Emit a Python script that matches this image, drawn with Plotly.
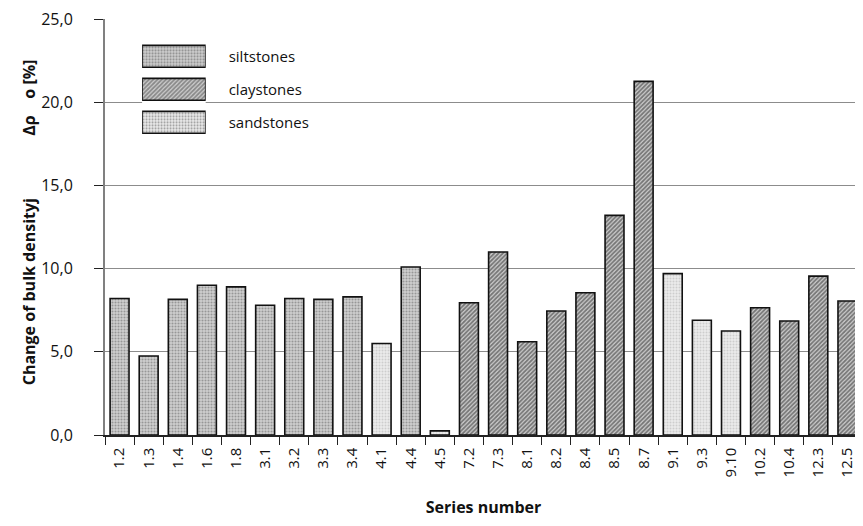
import plotly.graph_objects as go

categories = ["1.2", "1.3", "1.4", "1.6", "1.8", "3.1", "3.2", "3.3", "3.4", "4.1", "4.4", "4.5",
              "7.2", "7.3", "8.1", "8.2", "8.4", "8.5", "8.7", "9.1", "9.3", "9.10", "10.2", "10.4",
              "12.3", "12.5"]
values = [8.2, 4.75, 8.15, 9.0, 8.9, 7.8, 8.2, 8.15, 8.3, 5.5, 10.1, 0.25,
          7.95, 11.0, 5.6, 7.45, 8.55, 13.2, 21.25, 9.7, 6.9, 6.25, 7.65, 6.85,
          9.55, 8.05]
rock = ["siltstones", "siltstones", "siltstones", "siltstones", "siltstones", "siltstones",
        "siltstones", "siltstones", "siltstones", "sandstones", "siltstones", "sandstones",
        "claystones", "claystones", "claystones", "claystones", "claystones", "claystones",
        "claystones", "sandstones", "sandstones", "sandstones", "claystones", "claystones",
        "claystones", "claystones"]
rock_types = ["siltstones", "claystones", "sandstones"]
y_ticks = [0, 5, 10, 15, 20, 25]
y_title = "Change of bulk densityj               Δρ    o [%]"
x_title = "Series number"

patterns = {
    "siltstones": dict(shape=".", fgcolor="#5e5e5e", bgcolor="#d0d0d0", size=3, solidity=0.4),
    "claystones": dict(shape="/", fgcolor="#1e1e1e", bgcolor="#cfcfcf", size=3, solidity=0.6),
    "sandstones": dict(shape=".", fgcolor="#b0b0b0", bgcolor="#ebebeb", size=3, solidity=0.35),
}

FONT = "Open Sans"
fig = go.Figure()
for rt in rock_types:
    xs = [c for c, r in zip(categories, rock) if r == rt]
    ys = [v for v, r in zip(values, rock) if r == rt]
    fig.add_trace(go.Bar(
        x=xs, y=ys, name=rt, width=0.65,
        marker=dict(color=patterns[rt]["bgcolor"], pattern=patterns[rt],
                    line=dict(color="#111111", width=1.6)),
        showlegend=False,
    ))

# legend keys drawn as horizontal bars in a small inset axis
fig.add_trace(go.Bar(
    x=[1, 1, 1], y=rock_types, orientation="h", width=0.66,
    xaxis="x2", yaxis="y2", showlegend=False, hoverinfo="skip",
    marker=dict(color=[patterns[r]["bgcolor"] for r in rock_types],
                pattern=dict(shape=[patterns[r]["shape"] for r in rock_types],
                             fgcolor=[patterns[r]["fgcolor"] for r in rock_types],
                             bgcolor=[patterns[r]["bgcolor"] for r in rock_types],
                             size=3,
                             solidity=[patterns[r]["solidity"] for r in rock_types]),
                line=dict(color="#111111", width=1.6)),
))

fig.add_annotation(
    text="<b>" + y_title + "</b>", textangle=-90,
    xref="paper", yref="paper", x=-0.1, y=0.512, xanchor="center", yanchor="middle",
    showarrow=False, font=dict(size=16, family=FONT, color="#111111"),
)

# page body has an 8px margin, so the figure is sized 8px smaller
fig.update_layout(
    width=855, height=518,
    margin=dict(l=97, r=1, t=11, b=91),
    plot_bgcolor="white", paper_bgcolor="white",
    barmode="overlay",
    separators=",.",
    font=dict(family=FONT, size=14, color="#111111"),
    xaxis=dict(
        type="category", categoryorder="array", categoryarray=categories,
        automargin=False,
        ticks="outside", tickson="boundaries", ticklen=8, tickcolor="#222222",
        tickangle=-90, tickfont=dict(size=15, family=FONT), ticklabelstandoff=5,
        showline=True, linecolor="#222222", linewidth=1.5,
        showgrid=False, range=[-0.5, len(categories) - 0.5],
        title=dict(text="<b>" + x_title + "</b>", font=dict(size=16, family=FONT), standoff=25),
    ),
    yaxis=dict(
        range=[0, 25], tickvals=y_ticks, tickformat=".1f",
        automargin=False, ticklabeloverflow="allow",
        ticks="outside", ticklen=9, tickcolor="#222222",
        tickfont=dict(size=16, family=FONT), ticklabelstandoff=18,
        showline=True, linecolor="#808080", linewidth=2,
        showgrid=True, gridcolor="#8c8c8c", gridwidth=1.2,
        zeroline=False,
    ),
    xaxis2=dict(domain=[0.049, 0.133], range=[0, 1], anchor="y2",
                visible=False, fixedrange=True),
    yaxis2=dict(domain=[0.712, 0.95], anchor="x2", side="right",
                categoryorder="array", categoryarray=rock_types[::-1],
                automargin=False,
                showline=False, showgrid=False, ticks="", zeroline=False,
                ticklabelstandoff=22, tickfont=dict(size=15, family=FONT)),
)

fig.write_html("out.html")
